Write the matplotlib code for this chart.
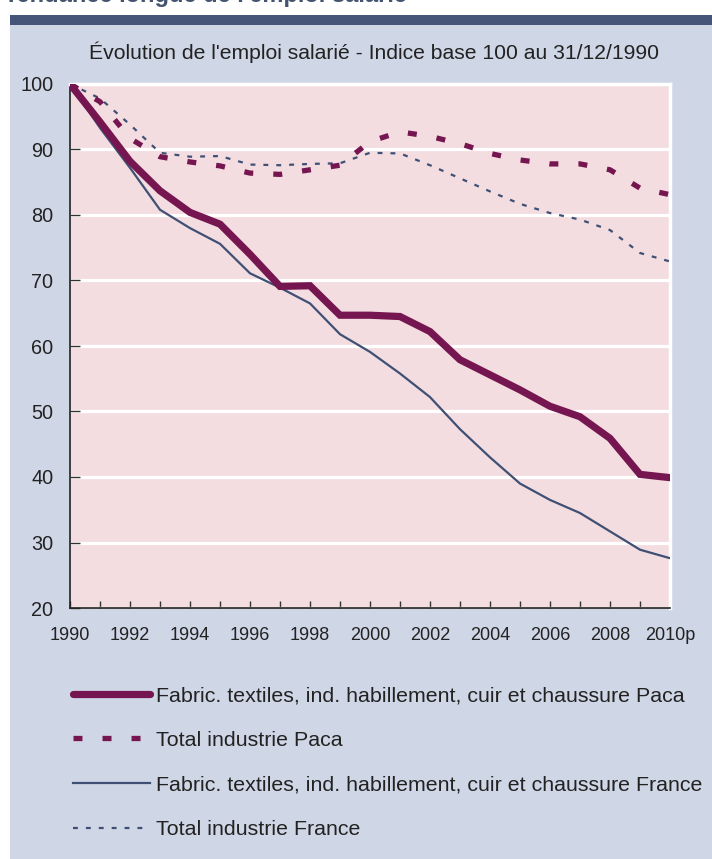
import matplotlib
matplotlib.use("Agg")
import matplotlib.pyplot as plt
from matplotlib.patches import Rectangle
from matplotlib.lines import Line2D

plt.rcParams['font.family'] = ['Liberation Sans', 'DejaVu Sans']

years = list(range(1990, 2011))
tick_years = list(range(1990, 2011, 2))
tick_labels = ['1990', '1992', '1994', '1996', '1998', '2000', '2002', '2004', '2006', '2008', '2010p']

textile_paca = [100, 94.2, 88.2, 83.7, 80.4, 78.6, 74.0, 69.1, 69.2, 64.7, 64.7,
                64.5, 62.2, 57.9, 55.6, 53.3, 50.8, 49.2, 45.9, 40.4, 39.9]
industrie_paca = [100, 97.3, 91.7, 88.9, 88.1, 87.5, 86.4, 86.2, 86.9, 87.6, 91.2,
                  92.7, 92.0, 90.9, 89.4, 88.4, 87.8, 87.8, 86.9, 84.1, 83.1]
textile_france = [100, 93.3, 87.2, 80.8, 78.0, 75.6, 71.1, 68.9, 66.5, 61.8, 59.1,
                  55.8, 52.2, 47.3, 43.0, 39.0, 36.5, 34.5, 31.7, 28.9, 27.6]
industrie_france = [100, 97.8, 93.8, 89.5, 88.9, 89.0, 87.7, 87.6, 87.8, 87.9, 89.5,
                    89.4, 87.6, 85.6, 83.6, 81.7, 80.3, 79.3, 77.7, 74.2, 72.9]

labels = ['Fabric. textiles, ind. habillement, cuir et chaussure Paca',
          'Total industrie Paca',
          'Fabric. textiles, ind. habillement, cuir et chaussure France',
          'Total industrie France']

PURPLE = '#761650'
SLATE = '#3F5074'
PANEL = '#CFD6E6'
PINK = '#F3DDE1'
BAND = '#45557A'

W, H = 712, 859
fig = plt.figure(figsize=(W / 100, H / 100), dpi=100)
fig.patch.set_facecolor('white')

# panel background and top band
fig.add_artist(Rectangle((10 / W, 0), 1 - 10 / W, 1 - 25 / H, transform=fig.transFigure,
                         facecolor=PANEL, edgecolor='none', zorder=0))
fig.add_artist(Rectangle((10 / W, 1 - 25 / H), 1 - 10 / W, 10 / H, transform=fig.transFigure,
                         facecolor=BAND, edgecolor='none', zorder=0))
fig.text(4 / W, 1 - 2 / H, "Tendance longue de l'emploi salarié", fontsize=17,
         fontweight='bold', color='#44546F', ha='left', va='baseline')

ax = fig.add_axes([70 / W, (H - 608) / H, 600 / W, 524 / H])
ax.set_facecolor(PINK)
ax.set_xlim(1990, 2010)
ax.set_ylim(20, 100)

ax.yaxis.grid(True, color='white', linewidth=2.3, zorder=1)
ax.set_axisbelow(True)

ax.plot(years, textile_france, color=SLATE, lw=1.6, zorder=3, solid_capstyle='round')
ax.plot(years, industrie_france, color=SLATE, lw=1.6, dashes=(2.2, 3.6), zorder=3)
ax.plot(years, industrie_paca, color=PURPLE, lw=3.8, dashes=(1.7, 3.8), zorder=4)
ax.plot(years, textile_paca, color=PURPLE, lw=5.2, zorder=5, solid_capstyle='round',
        solid_joinstyle='miter')

ax.set_yticks(range(20, 101, 10))
ax.set_xticks(years, minor=False)
ax.set_xticklabels([tick_labels[tick_years.index(y)] if y in tick_years else '' for y in years])
ax.tick_params(axis='x', direction='in', length=5, width=1, color='#333333', pad=14,
               labelsize=13, labelcolor='#222222')
ax.tick_params(axis='y', direction='in', length=7, width=1, color='#333333', pad=12,
               labelsize=14.3, labelcolor='#222222')

for s in ['top', 'right']:
    ax.spines[s].set_color('white')
    ax.spines[s].set_linewidth(2.5)
for s in ['left', 'bottom']:
    ax.spines[s].set_color('#222222')
    ax.spines[s].set_linewidth(1.2)

fig.text(374 / W, 1 - 52 / H, "Évolution de l'emploi salarié - Indice base 100 au 31/12/1990",
         fontsize=15.2, color='#222222', ha='center', va='center')

handles = [
    Line2D([], [], color=PURPLE, lw=5.2, solid_capstyle='round'),
    Line2D([], [], color=PURPLE, lw=3.8, dashes=(1.7, 3.8)),
    Line2D([], [], color=SLATE, lw=1.6),
    Line2D([], [], color=SLATE, lw=1.6, dashes=(2.2, 3.6)),
]
fig.legend(handles, labels, loc='upper left', bbox_to_anchor=(73 / W, 1 - 686 / H),
           frameon=False, fontsize=15.4, handlelength=3.6, handletextpad=0.3,
           labelspacing=1.2, borderpad=0, borderaxespad=0, labelcolor='#222222')

fig.savefig('out.png', dpi=100, facecolor=fig.get_facecolor())
